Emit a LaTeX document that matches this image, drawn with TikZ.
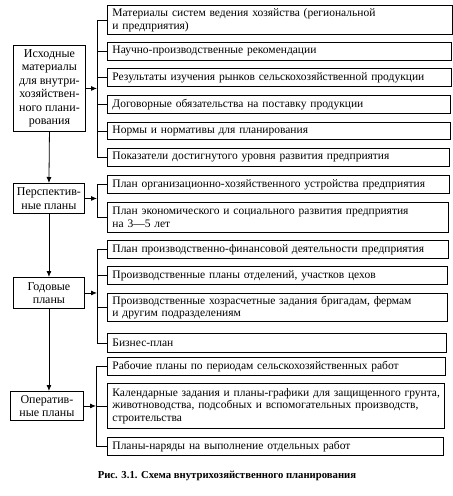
\documentclass[tikz,border=0pt]{standalone}
\usepackage{fontspec}
\setmainfont{Liberation Serif}
\usetikzlibrary{arrows.meta,calc}
\begin{document}
\begin{tikzpicture}[x=1pt,y=-1pt,
  rbox/.style={draw,line width=0.9pt,anchor=north west,inner xsep=5pt,inner ysep=0pt,align=left,
    font=\fontsize{11.5}{12.6}\selectfont},
  lbox/.style={draw,line width=0.9pt,anchor=north west,inner sep=0pt,align=center,
    font=\fontsize{12}{13.5}\selectfont},
  conn/.style={line width=0.8pt},
  arr/.style={line width=0.8pt,-{Latex[length=6pt,width=5pt]}}]
\useasboundingbox (0,0) rectangle (453,496);
% right boxes: \rb{name}{top}{bottom}{right}{text}
\newcommand{\rb}[5]{%
  \node[rbox,minimum width={#4-107},minimum height={#3-#2},text width={#4-107-8}] (#1) at (107,#2) {#5};}
\rb{r1}{5}{34}{450}{Материалы систем ведения хозяйства (региональной\\и предприятия)}
\rb{r2}{42}{60}{449}{Научно-производственные рекомендации}
\rb{r3}{68}{86}{449}{Результаты изучения рынков сельскохозяйственной продукции}
\rb{r4}{95}{113}{448}{Договорные обязательства на поставку продукции}
\rb{r5}{122}{139}{448}{Нормы и нормативы для планирования}
\rb{r6}{148}{166}{447}{Показатели достигнутого уровня развития предприятия}
\rb{r7}{175}{193}{447}{План организационно-хозяйственного устройства предприятия}
\rb{r8}{202}{232}{446}{План экономического и социального развития предприятия\\на 3—5 лет}
\rb{r9}{240}{258}{446}{План производственно-финансовой деятельности предприятия}
\rb{r10}{266}{284}{445}{Производственные планы отделений, участков цехов}
\rb{r11}{293}{321}{445}{Производственные хозрасчетные задания бригадам, фермам\\и другим подразделениям}
\rb{r12}{333}{352}{444}{Бизнес-план}
\rb{r13}{357}{375}{443}{Рабочие планы по периодам сельскохозяйственных работ}
\rb{r14}{383}{428}{442}{\mbox{Календарные задания и планы-графики для защищенного грунта,}\\\mbox{животноводства, подсобных и вспомогательных производств,}\\строительства}
\rb{r15}{437}{455}{441}{Планы-наряды на выполнение отдельных работ}
% left boxes
\node[lbox,minimum width=72,minimum height=86] (l1) at (13,45) {Исходные\\материалы\\для внутри-\\хозяйствен-\\ного плани-\\рования};
\node[lbox,minimum width=71,minimum height=30] (l2) at (13,183) {Перспектив-\\ные планы};
\node[lbox,minimum width=71,minimum height=31] (l3) at (13,277) {Годовые\\планы};
\node[lbox,minimum width=73,minimum height=29] (l4) at (10,391) {Оператив-\\ные планы};
% bracket coordinates
\coordinate (b1) at ([xshift=-10pt]r1.west);
\coordinate (b2) at ([xshift=-10pt]r7.west);
\coordinate (b3) at ([xshift=-10pt]r9.west);
\coordinate (b4) at ([xshift=-11pt]r13.west);
% group 1
\foreach \r in {r1,r2,r3,r4,r5,r6} \draw[conn] (\r.west) -- (\r.west -| b1);
\draw[conn] (b1) -- (b1 |- r6.west);
\draw[arr] (l1.east) -- (l1.east -| b1);
% group 2
\foreach \r in {r7,r8} \draw[conn] (\r.west) -- (\r.west -| b2);
\draw[conn] (b2) -- (b2 |- r8.west);
\draw[arr] (l2.east) -- (l2.east -| b2);
% group 3
\foreach \r in {r9,r10,r11,r12} \draw[conn] (\r.west) -- (\r.west -| b3);
\draw[conn] (b3) -- (b3 |- r12.west);
\draw[arr] (l3.east) -- (l3.east -| b3);
% group 4
\foreach \r in {r13,r14,r15} \draw[conn] (\r.west) -- (\r.west -| b4);
\draw[conn] (b4) -- (b4 |- r15.west);
\draw[arr] (l4.east) -- (l4.east -| b4);
% vertical arrows
\draw[arr] (l1.south) -- (l2.north);
\draw[arr] (l2.south) -- (l3.north);
\draw[arr] (l3.south) -- (l3.south |- l4.north);
% caption
\node[font=\bfseries\fontsize{10.7}{12}\selectfont] (cap) at (227,476) {Рис. 3.1. Схема внутрихозяйственного планирования};
\end{tikzpicture}
\end{document}
